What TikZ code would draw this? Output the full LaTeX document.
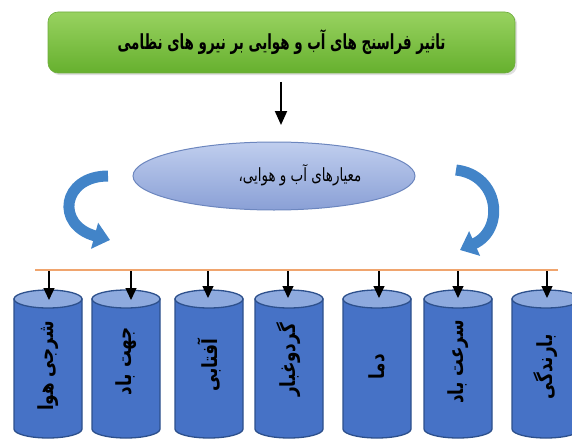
\documentclass[tikz,border=0pt]{standalone}
\usepackage{fontspec}
\usepackage{graphicx}
\usetikzlibrary{arrows.meta,shadows,shapes.geometric}
\TeXXeTstate=1
\newfontfamily\farsi[Script=Arabic]{DejaVu Sans}
\definecolor{box_top}{RGB}{152,210,96}
\definecolor{box_bot}{RGB}{102,176,46}
\definecolor{box_edge}{RGB}{110,172,62}
\definecolor{ell_top}{RGB}{192,206,238}
\definecolor{ell_bot}{RGB}{138,160,214}
\definecolor{ell_edge}{RGB}{108,134,190}
\definecolor{cyl_body}{RGB}{70,114,198}
\definecolor{cyl_cap}{RGB}{142,170,222}
\definecolor{cyl_edge}{RGB}{45,80,140}
\definecolor{ribbon}{RGB}{66,132,200}
\definecolor{rail_orange}{RGB}{240,165,110}
\tikzstyle{gbox}=[rectangle,rounded corners=10pt,top color=box_top,bottom color=box_bot,
  draw=box_edge,line width=0.6pt,minimum width=467pt,minimum height=61pt,
  drop shadow={opacity=0.25},font=\farsi\bfseries\fontsize{16}{19}\selectfont]
\tikzstyle{critell}=[ellipse,top color=ell_top,bottom color=ell_bot,draw=ell_edge,
  line width=1pt,minimum width=282pt,minimum height=68pt]
\tikzstyle{ctext}=[font=\farsi\fontsize{14}{17}\selectfont]
\tikzstyle{clbl}=[rotate=90,font=\farsi\bfseries\fontsize{16}{19}\selectfont]
\tikzstyle{cylbody}=[fill=cyl_body,draw=cyl_edge,line width=1.3pt]
\tikzstyle{cyltop}=[fill=cyl_cap,draw=cyl_edge,line width=1.3pt]
\tikzstyle{darr}=[line width=2pt,-{Triangle[width=12pt,length=14pt]}]
\tikzstyle{tickarr}=[line width=1.3pt,-{Triangle[width=11pt,length=12pt]}]
\tikzstyle{curlarr}=[draw=ribbon,line width=11pt,-{Triangle[width=26pt,length=16pt]}]
\tikzstyle{rail}=[draw=rail_orange,line width=1.8pt]
\newcommand{\tall}[1]{\scalebox{1.05}[1.3]{\beginR #1\endR}}

\begin{document}
\begin{tikzpicture}[x=1pt,y=-1pt]
        \useasboundingbox (0,0) rectangle (572,441);
        \node [style=gbox] (top) at (281.5,42.5) {\scalebox{0.84}[1.3]{\beginR تاثیر فراسنج های آب و هوایی بر نیرو های نظامی\endR}};
        \node [style=critell] (crit) at (274,176) {};
        \node [style=ctext] (critlbl) at (300,175) {\scalebox{0.96}[1.3]{\beginR معیارهای آب و هوایی،\endR}};
        \coordinate (ds) at (281,82);
        \coordinate (de) at (281,125);
        \draw [style=darr] (ds) to (de);
        % curved arrows
        \coordinate (lin) at (108,176);
        \coordinate (lout) at (110,240);
        \coordinate (rin) at (456,170);
        \coordinate (rout) at (460,250);
        \draw [style=curlarr] (lin) .. controls (62,176) and (55,225) .. (lout);
        \draw [style=curlarr] (rin) .. controls (500,175) and (505,230) .. (rout);
        % orange line
        \coordinate (rl) at (35,270);
        \coordinate (rr) at (558,270);
        \draw [style=rail] (rl) to (rr);
        % cylinders
        \filldraw [style=cylbody] (14,299) -- (14,429) arc [start angle=180,end angle=0,x radius=34,y radius=9] -- (82,299) -- cycle;
        \filldraw [style=cyltop] (48,299) ellipse [x radius=34,y radius=9];
        \filldraw [style=cylbody] (92,299) -- (92,429) arc [start angle=180,end angle=0,x radius=34,y radius=9] -- (160,299) -- cycle;
        \filldraw [style=cyltop] (126,299) ellipse [x radius=34,y radius=9];
        \filldraw [style=cylbody] (175,299) -- (175,429) arc [start angle=180,end angle=0,x radius=34,y radius=9] -- (243,299) -- cycle;
        \filldraw [style=cyltop] (209,299) ellipse [x radius=34,y radius=9];
        \filldraw [style=cylbody] (255,299) -- (255,429) arc [start angle=180,end angle=0,x radius=34,y radius=9] -- (323,299) -- cycle;
        \filldraw [style=cyltop] (289,299) ellipse [x radius=34,y radius=9];
        \filldraw [style=cylbody] (343,299) -- (343,429) arc [start angle=180,end angle=0,x radius=34,y radius=9] -- (411,299) -- cycle;
        \filldraw [style=cyltop] (377,299) ellipse [x radius=34,y radius=9];
        \filldraw [style=cylbody] (424,299) -- (424,429) arc [start angle=180,end angle=0,x radius=34,y radius=9] -- (492,299) -- cycle;
        \filldraw [style=cyltop] (458,299) ellipse [x radius=34,y radius=9];
        \filldraw [style=cylbody] (512,299) -- (512,429) arc [start angle=180,end angle=0,x radius=34,y radius=9] -- (580,299) -- cycle;
        \filldraw [style=cyltop] (546,299) ellipse [x radius=34,y radius=9];
        % labels
        \node [style=clbl] (l1) at (48,366) {\tall{شرجی هوا}};
        \node [style=clbl] (l2) at (126,361) {\tall{جهت باد}};
        \node [style=clbl] (l3) at (209,365) {\tall{آفتابی}};
        \node [style=clbl] (l4) at (289,360) {\tall{گردوغبار}};
        \node [style=clbl] (l5) at (377,367) {\tall{دما}};
        \node [style=clbl] (l6) at (458,362) {\tall{سرعت باد}};
        \node [style=clbl] (l7) at (546,367) {\tall{بارندگی}};
        % ticks
        \coordinate (t1) at (49,271);
        \coordinate (c1) at (49,300);
        \coordinate (t2) at (131,271);
        \coordinate (c2) at (131,300);
        \coordinate (t3) at (208,271);
        \coordinate (c3) at (208,298);
        \coordinate (t4) at (288,271);
        \coordinate (c4) at (288,298);
        \coordinate (t5) at (379,271);
        \coordinate (c5) at (379,298);
        \coordinate (t6) at (458,271);
        \coordinate (c6) at (458,298);
        \coordinate (t7) at (547,271);
        \coordinate (c7) at (547,298);
        \draw [style=tickarr] (t1) to (c1);
        \draw [style=tickarr] (t2) to (c2);
        \draw [style=tickarr] (t3) to (c3);
        \draw [style=tickarr] (t4) to (c4);
        \draw [style=tickarr] (t5) to (c5);
        \draw [style=tickarr] (t6) to (c6);
        \draw [style=tickarr] (t7) to (c7);
    \end{tikzpicture}
\end{document}
